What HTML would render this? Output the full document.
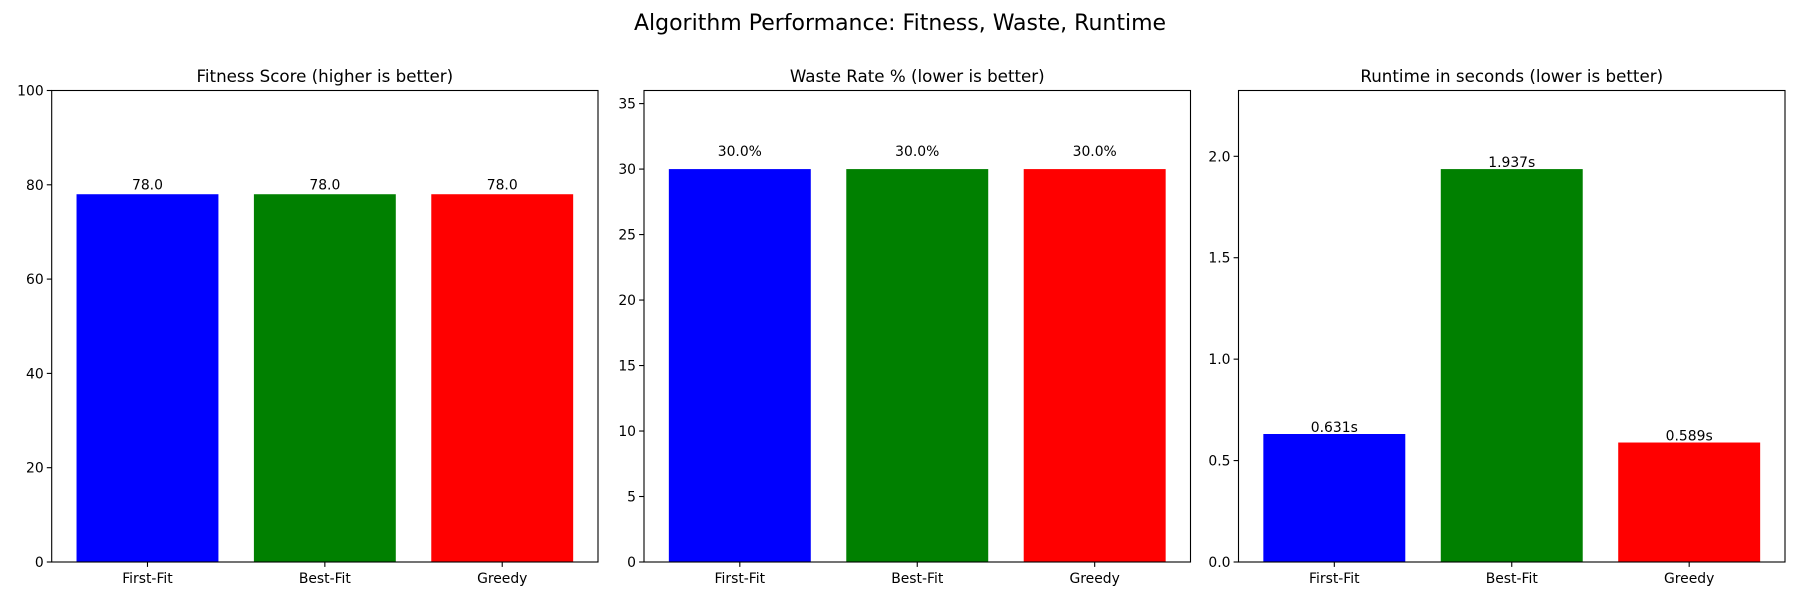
<!DOCTYPE html>
<html><head><meta charset="utf-8"><style>
body{margin:0;background:#fff;}
svg{display:block;font-family:"DejaVu Sans","Liberation Sans",sans-serif;}
</style></head><body>
<svg id="fig" width="1800" height="600" viewBox="0 0 1800 600">
<rect width="1800" height="600" fill="#fff"/>
<text x="900" y="30" text-anchor="middle" font-size="22">Algorithm Performance: Fitness, Waste, Runtime</text>
</svg>
<script>
const categories = ["First-Fit","Best-Fit","Greedy"];
const fitnessValues = [78.0, 78.0, 78.0];
const wasteValues = [30.0, 30.0, 30.0];
const runtimeValues = [0.631, 1.937, 0.589];
const fitnessTicks = [0,20,40,60,80,100];
const wasteTicks = [0,5,10,15,20,25,30,35];
const runtimeTicks = [0.0,0.5,1.0,1.5,2.0];
const fitnessLabels = ["78.0","78.0","78.0"];
const wasteLabels = ["30.0%","30.0%","30.0%"];
const runtimeLabels = ["0.631s","1.937s","0.589s"];
const colors = ["#0000ff","#008000","#ff0000"];

const NS = "http://www.w3.org/2000/svg";
const svg = document.getElementById("fig");
function mk(tag, attrs, parent){
  const e = document.createElementNS(NS, tag);
  for (const k in attrs) e.setAttribute(k, attrs[k]);
  (parent||svg).appendChild(e);
  return e;
}
const top0 = 90.5, bot = 562;
const panels = [
  {left:51.7, right:598, title:"Fitness Score (higher is better)", vals:fitnessValues, ticks:fitnessTicks, ymax:100, labels:fitnessLabels, off:1, dec:0, key:"fitness"},
  {left:644, right:1190.5, title:"Waste Rate % (lower is better)", vals:wasteValues, ticks:wasteTicks, ymax:Math.max(...wasteValues)*1.2, labels:wasteLabels, off:1, dec:0, key:"waste"},
  {left:1238.5, right:1785, title:"Runtime in seconds (lower is better)", vals:runtimeValues, ticks:runtimeTicks, ymax:Math.max(...runtimeValues)*1.2, labels:runtimeLabels, off:0, dec:1, key:"runtime"}
];
panels.forEach(p=>{
  const g = mk("g", {});
  
  
  const W = p.right - p.left;
  const xs = v => p.left + (v + 0.54) / 3.08 * W;
  const ys = v => bot - v / p.ymax * (bot - top0);
  p.vals.forEach((v,i)=>{
    const r = mk("rect", {x:xs(i-0.4), y:ys(v), width:xs(i+0.4)-xs(i-0.4), height:bot-ys(v), fill:colors[i]}, g);
    
    
    const yb = p.off ? ys(v + p.off) : ys(v) - 2;
    const t = mk("text", {x:xs(i), y:yb, "text-anchor":"middle", "font-size":"13.9"}, g);
    t.textContent = p.labels[i];
    
    
  });
  const fr = mk("rect", {x:p.left, y:top0, width:W, height:bot-top0, fill:"none", stroke:"#000", "stroke-width":"1.1"}, g);
  
  
  p.ticks.forEach(tv=>{
    const y = ys(tv);
    mk("line", {x1:p.left-4.9, x2:p.left, y1:y, y2:y, stroke:"#000", "stroke-width":"1.1"}, g);
    const t = mk("text", {x:p.left-8, y:y+5, "text-anchor":"end", "font-size":"13.9"}, g);
    t.textContent = p.dec ? tv.toFixed(1) : String(tv);
    
    
  });
  categories.forEach((c,i)=>{
    const x = xs(i);
    mk("line", {x1:x, x2:x, y1:bot, y2:bot+4.9, stroke:"#000", "stroke-width":"1.1"}, g);
    const t = mk("text", {x:x, y:bot+21, "text-anchor":"middle", "font-size":"13.9"}, g);
    t.textContent = c;
    
    
  });
  const tt = mk("text", {x:(p.left+p.right)/2, y:top0-8.5, "text-anchor":"middle", "font-size":"16.7"}, g);
  tt.textContent = p.title;
  
  
});
</script>
</body></html>
